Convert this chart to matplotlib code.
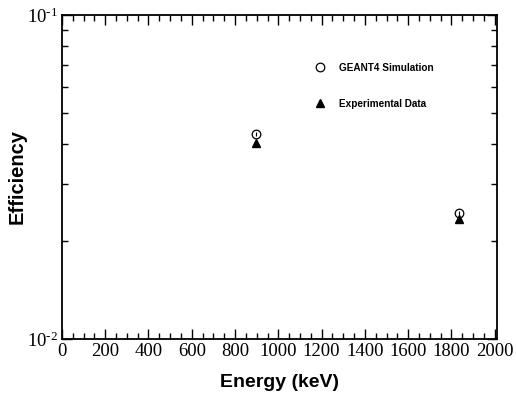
import matplotlib
matplotlib.use("Agg")
import matplotlib.pyplot as plt
from matplotlib.lines import Line2D
from matplotlib.ticker import MultipleLocator, FixedLocator, FuncFormatter
import numpy as np

# Y-88 lines
energy = [898, 1836]
sim_eff = [0.0430, 0.0245]
sim_err = [0.0006, 0.0004]
exp_eff = [0.0402, 0.0234]
exp_err = [0.0005, 0.0003]

plt.rcParams['mathtext.fontset'] = 'custom'
plt.rcParams['mathtext.rm'] = 'Liberation Serif'
plt.rcParams['mathtext.it'] = 'Liberation Serif'

fig = plt.figure(figsize=(5.16, 4.0), dpi=100)
ax = fig.add_axes([0.120, 0.1525, 0.843, 0.81])

ax.errorbar(energy, sim_eff, yerr=sim_err, fmt='o', mfc='none', mec='black',
            ecolor='black', elinewidth=0.8, capsize=0, ms=6.2, mew=0.9)
ax.errorbar(energy, exp_eff, yerr=exp_err, fmt='^', color='black',
            ecolor='black', elinewidth=0.8, capsize=0, ms=6.2)

ax.set_yscale('log')
ax.set_xlim(0, 2010)
ax.set_ylim(0.01, 0.1)

ax.xaxis.set_major_locator(MultipleLocator(200))
ax.xaxis.set_minor_locator(MultipleLocator(50))
ax.yaxis.set_major_locator(FixedLocator([0.01, 0.1]))
ax.yaxis.set_minor_locator(FixedLocator(np.arange(2, 10) * 0.01))
ax.yaxis.set_minor_formatter(FuncFormatter(lambda v, p: ''))
ax.yaxis.set_major_formatter(FuncFormatter(
    lambda v, p: r'$10^{\text{-%d}}$' % abs(int(round(np.log10(v))))))

ax.tick_params(which='both', direction='in', top=True, right=True, width=1.0)
ax.tick_params(which='major', length=7, labelsize=13.5, pad=3)
ax.tick_params(which='minor', length=4)
for lab in ax.get_xticklabels():
    lab.set_family('Liberation Serif')
for sp in ax.spines.values():
    sp.set_linewidth(1.3)

ax.set_xlabel('Energy (keV)', fontsize=14, fontweight='bold',
              family='Liberation Sans', labelpad=10)
ax.set_ylabel('Efficiency', fontsize=14.5, fontweight='bold',
              family='Liberation Sans', labelpad=0)

handles = [Line2D([], [], ls='none', marker='o', mfc='none', mec='black', ms=6.2, mew=0.9),
           Line2D([], [], ls='none', marker='^', color='black', ms=6.2)]
ax.legend(handles, ['GEANT4 Simulation', 'Experimental Data'],
          loc='upper left', bbox_to_anchor=(0.56, 0.88), frameon=False,
          prop={'family': 'Liberation Sans', 'weight': 'bold', 'size': 7.2},
          handlelength=1.0, handletextpad=1.4, labelspacing=2.6)

fig.savefig('out.png', dpi=100)
